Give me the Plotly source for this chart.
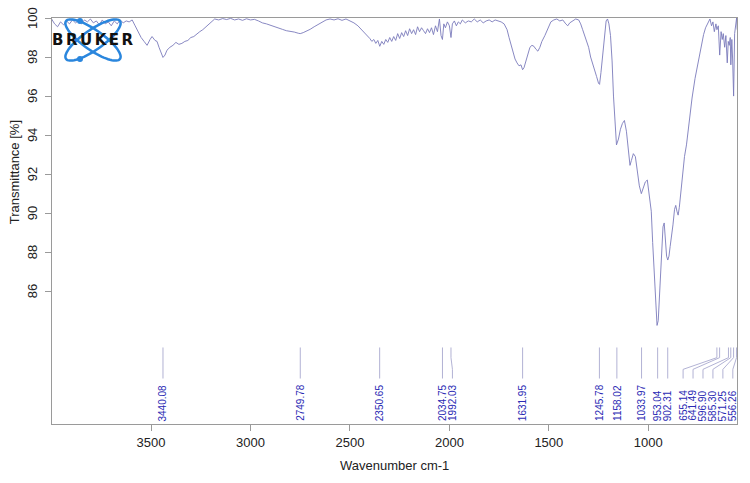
import math
import plotly.graph_objects as go

# FTIR spectrum
wavenumber = [
    4000, 3985, 3970, 3955, 3940, 3925, 3910, 3895, 3880, 3865, 3850, 3835, 3820, 3805,
    3790, 3775, 3760, 3745, 3730, 3715, 3700, 3685, 3670, 3655, 3640, 3625, 3610, 3595,
    3580, 3565, 3550, 3535, 3520, 3505, 3495, 3480, 3470, 3460, 3450, 3440, 3430, 3420,
    3405, 3390, 3375, 3360, 3345, 3330, 3315, 3300, 3285, 3270, 3255, 3240, 3225, 3210,
    3195, 3180, 3160, 3140, 3120, 3100, 3080, 3060, 3040, 3020, 3000, 2980, 2960, 2940,
    2920, 2900, 2880, 2860, 2840, 2820, 2800, 2780, 2760, 2750, 2735, 2720, 2700, 2680,
    2660, 2640, 2620, 2600, 2580, 2560, 2540, 2520, 2500, 2480, 2460, 2440, 2420, 2400,
    2390, 2380, 2370, 2360, 2350, 2340, 2330, 2320, 2310, 2300, 2290, 2280, 2270, 2260,
    2250, 2240, 2230, 2220, 2210, 2200, 2190, 2180, 2170, 2160, 2150, 2140, 2130, 2120,
    2110, 2100, 2090, 2080, 2070, 2060, 2050, 2042, 2035, 2028, 2020, 2010, 2000, 1992,
    1985, 1975, 1965, 1955, 1945, 1935, 1920, 1905, 1890, 1875, 1860, 1845, 1830, 1815,
    1800, 1785, 1770, 1755, 1740, 1725, 1710, 1700, 1690, 1680, 1670, 1660, 1650, 1640,
    1632, 1625, 1615, 1605, 1595, 1585, 1575, 1565, 1555, 1545, 1535, 1520, 1505, 1490,
    1475, 1460, 1445, 1430, 1415, 1405, 1395, 1380, 1365, 1350, 1340, 1330, 1320, 1310,
    1300, 1290, 1280, 1270, 1260, 1250, 1245, 1238, 1230, 1220, 1212, 1205, 1198, 1190,
    1182, 1175, 1168, 1160, 1150, 1140, 1130, 1120, 1110, 1100, 1092, 1085, 1075, 1065,
    1055, 1045, 1035, 1025, 1015, 1005, 995, 985, 978, 970, 962, 956, 950, 944,
    938, 932, 926, 920, 914, 908, 902, 896, 890, 884, 876, 868, 862, 856,
    850, 844, 836, 828, 818, 808, 795, 780, 765, 750, 735, 722, 712, 700,
    690, 682, 675, 668, 660, 655, 648, 641, 634, 628, 623, 616, 610, 603,
    598, 593, 588, 585, 580, 576, 571, 566, 561, 556, 553,
]
transmittance = [
    99.95, 99.7, 99.55, 99.8, 99.65, 99.85, 99.7, 99.9, 99.75, 99.85, 99.7, 99.9, 99.8, 99.95,
    99.75, 99.85, 99.65, 99.9, 99.7, 99.8, 99.6, 99.85, 99.7, 99.9, 99.75, 99.85, 99.8, 99.9,
    99.6, 99.3, 99.0, 98.8, 98.6, 98.9, 99.05, 98.85, 98.8, 98.5, 98.2, 97.98, 98.1, 98.35,
    98.5, 98.6, 98.75, 98.65, 98.7, 98.8, 98.85, 99.0, 99.05, 99.2, 99.3, 99.4, 99.55, 99.7,
    99.85, 99.95, 99.9, 99.97, 99.92, 99.98, 99.9, 99.95, 99.88, 99.96, 99.9, 99.93, 99.85, 99.75,
    99.7, 99.62, 99.55, 99.5, 99.42, 99.35, 99.32, 99.28, 99.22, 99.2, 99.25, 99.32, 99.42, 99.55,
    99.68, 99.8, 99.9, 99.95, 99.9, 99.96, 99.88, 99.95, 99.85, 99.75, 99.6, 99.4, 99.2, 98.95,
    98.8, 98.9, 98.7, 98.85, 98.55, 98.8, 98.65, 98.9, 98.75, 99.0, 98.8, 99.05, 98.85, 99.2,
    98.95, 99.25, 99.05, 99.35, 99.1, 99.45, 99.2, 99.4, 99.15, 99.55, 99.3, 99.5, 99.35, 99.2,
    99.45, 99.25, 99.5, 99.15, 99.6, 99.3, 99.95, 99.1, 98.9, 99.7, 99.5, 99.8, 99.6, 99.0,
    99.7, 99.85, 99.6, 99.8, 99.7, 99.9, 99.75, 99.85, 99.8, 99.95, 99.8, 99.9, 99.75, 99.85,
    99.9, 99.8, 99.9, 99.85, 99.8, 99.7, 99.4, 99.0, 98.6, 98.2, 97.9, 97.7, 97.55, 97.6,
    97.35, 97.45, 97.8, 98.2, 98.5, 98.6, 98.55, 98.4, 98.3, 98.5, 98.8, 99.1, 99.5, 99.8,
    99.9, 99.95, 99.85, 99.9, 99.7, 99.6, 99.75, 99.85, 99.95, 99.9, 99.7, 99.4, 99.1, 98.8,
    98.5, 98.0, 97.7, 97.4, 97.0, 96.65, 96.6, 97.2, 98.0, 99.2, 99.85, 99.95, 99.7, 99.1,
    97.8, 96.0, 94.5, 93.5, 93.8, 94.3, 94.6, 94.75, 94.2, 93.0, 92.45, 92.7, 93.05, 92.9,
    92.2, 91.4, 91.0, 91.3, 91.6, 91.7, 91.0, 90.1, 88.5, 86.7, 84.9, 84.25, 84.5, 85.6,
    86.8, 88.2, 89.3, 89.5, 88.8, 87.8, 87.6, 87.8, 88.3, 88.7, 89.4, 90.2, 90.4, 90.1,
    89.9, 90.3, 91.1, 92.1, 92.9, 93.5, 94.7, 95.9, 96.9, 97.7, 98.6, 99.15, 99.5, 99.75,
    99.95, 99.6, 99.8, 99.3, 99.7, 99.4, 99.6, 98.1, 99.3, 98.9, 99.2, 98.5, 99.1, 97.7,
    98.8, 98.6, 99.0, 97.6, 98.9, 97.9, 96.0, 99.2, 99.7, 100.0, 99.4,
]

peaks = [3440.08, 2749.78, 2350.65, 2034.75, 1992.03, 1631.95, 1245.78, 1158.02,
         1033.97, 953.04, 902.31, 655.14, 641.49, 596.90, 585.30, 571.25, 556.26]

x_ticks = [3500, 3000, 2500, 2000, 1500, 1000]
y_ticks = [86, 88, 90, 92, 94, 96, 98, 100]

X_RANGE = [3998, 554]
Y_RANGE = [79.2, 100]
LABEL_GAP = 50     # min spacing between peak labels, cm-1
LABEL_MIN = 575    # rightmost label position, keeps text inside the frame

# spread crowded labels: push apart high->low, then clamp at the right edge
pos = []
for p in peaks:
    if pos:
        pos.append(min(p, pos[-1] - LABEL_GAP))
    else:
        pos.append(p)
for i in range(len(pos) - 1, -1, -1):
    if i == len(pos) - 1:
        pos[i] = max(pos[i], LABEL_MIN)
    else:
        pos[i] = max(pos[i], pos[i + 1] + LABEL_GAP)

# leader lines from peak marker to label
lx, ly = [], []
for p, q in zip(peaks, pos):
    lx += [p, p, q, q, None]
    ly += [83.12, 82.6, 82.0, 81.53, None]

fig = go.Figure()
fig.add_trace(go.Scatter(x=wavenumber, y=transmittance, mode="lines",
                         line=dict(color="#7b7bbb", width=0.9), hoverinfo="skip"))
fig.add_trace(go.Scatter(x=lx, y=ly, mode="lines",
                         line=dict(color="#a9a9cf", width=0.9), hoverinfo="skip"))

for p, q in zip(peaks, pos):
    fig.add_annotation(x=q, y=79.3, text=f"{p:.2f}", showarrow=False, textangle=-90,
                       xanchor="center", yanchor="bottom", borderpad=0,
                       font=dict(size=10, color="#2a2ab4"))

# y tick labels are rotated in the original, so draw them as annotations
for v in y_ticks:
    fig.add_annotation(xref="paper", x=0, xshift=-20, y=v, text=str(v), showarrow=False,
                       textangle=-90, xanchor="center", yanchor="middle", borderpad=0,
                       font=dict(size=13, color="#222"))

# axis titles
fig.add_annotation(xref="paper", yref="paper", x=0, y=0.62, xshift=-38, text="Transmittance [%]",
                   showarrow=False, textangle=-90, xanchor="center", yanchor="middle",
                   font=dict(size=13, color="#222"))
fig.add_annotation(xref="paper", yref="paper", x=0.5, y=0, yshift=-41, text="Wavenumber cm-1",
                   showarrow=False, xanchor="center", yanchor="middle",
                   font=dict(size=13, color="#222"))

# Bruker logo (two tilted orbits, two dots, wordmark)
def orbit(cx, cy, a, b, tilt):
    t = math.radians(tilt)
    pts = []
    for k in range(73):
        s = 2 * math.pi * k / 72
        ex, ey = a * math.cos(s), b * math.sin(s)
        pts.append((cx + ex * math.cos(t) - ey * math.sin(t), cy + ex * math.sin(t) + ey * math.cos(t)))
    return "M " + " L ".join(f"{px:.1f},{py:.1f}" for px, py in pts) + " Z"

logo_blue = "#2a86dd"
for tilt in (35, -35):
    fig.add_shape(type="path", xref="paper", yref="paper", xsizemode="pixel", ysizemode="pixel",
                  xanchor=0, yanchor=1, path=orbit(41, -22, 33, 10, tilt),
                  line=dict(color=logo_blue, width=2.5), layer="above")
for dy in (-3, -41):
    fig.add_shape(type="circle", xref="paper", yref="paper", xsizemode="pixel", ysizemode="pixel",
                  xanchor=0, yanchor=1, x0=25, x1=31, y0=dy - 3, y1=dy + 3,
                  fillcolor=logo_blue, line=dict(width=0), layer="above")
fig.add_annotation(xref="paper", yref="paper", x=0, y=1, xshift=41, yshift=-22,
                   text="B\u2006R\u2006U\u2006K\u2006E\u2006R", showarrow=False,
                   xanchor="center", yanchor="middle",
                   font=dict(family="DejaVu Sans", size=15, color="#111", weight="bold"))

axis_style = dict(showline=True, mirror=True, linecolor="#9a9a9a", linewidth=1,
                  ticks="outside", ticklen=6, tickcolor="#9a9a9a", showgrid=False,
                  zeroline=False, tickfont=dict(size=13, color="#222"))
fig.update_xaxes(range=X_RANGE, tickvals=x_ticks, **axis_style)
fig.update_yaxes(range=Y_RANGE, tickvals=y_ticks, showticklabels=False, **axis_style)

fig.update_layout(width=750, height=483, margin=dict(l=52, r=13, t=18, b=59),
                  plot_bgcolor="white", paper_bgcolor="white", showlegend=False,
                  font=dict(family="Liberation Sans, Arial, sans-serif"))

# page has default body margin; drop it so the figure sits at the window origin
fig.write_html("out.html", config={"displayModeBar": False},
               post_script="document.body.style.margin='0';")
